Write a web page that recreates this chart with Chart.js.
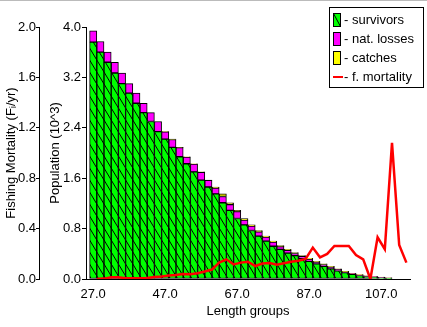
<!DOCTYPE html>
<html>
<head>
<meta charset="utf-8">
<style>
  html, body { margin: 0; padding: 0; background: #fff; }
  canvas { display: block; }
</style>
<script src="https://cdn.jsdelivr.net/npm/chart.js@4.4.0/dist/chart.umd.min.js"></script>
</head>
<body>
<canvas id="popChart" width="427" height="327"></canvas>
<script>
// length groups (bar centres)
const lengths = [27, 29, 31, 33, 35, 37, 39, 41, 43, 45, 47, 49, 51, 53, 55, 57, 59, 61, 63, 65, 67,
                 69, 71, 73, 75, 77, 79, 81, 83, 85, 87, 89, 91, 93, 95, 97, 99, 101, 103, 105, 107, 109];
// population, 10^3
const survivors = [3.76, 3.60, 3.44, 3.27, 3.10, 2.95, 2.79, 2.64, 2.50, 2.34, 2.22, 2.09, 1.94, 1.83,
                   1.70, 1.57, 1.46, 1.35, 1.21, 1.09, 0.96, 0.86, 0.77, 0.68, 0.60, 0.52, 0.47, 0.41,
                   0.37, 0.33, 0.28, 0.24, 0.20, 0.16, 0.13, 0.10, 0.075, 0.055, 0.04, 0.03, 0.02, 0.012];
const natLosses = [0.18, 0.17, 0.16, 0.17, 0.17, 0.15, 0.16, 0.15, 0.14, 0.16, 0.115, 0.125, 0.145, 0.105,
                   0.125, 0.125, 0.105, 0.095, 0.10, 0.09, 0.11, 0.075, 0.07, 0.07, 0.065, 0.065, 0.045,
                   0.045, 0.035, 0.028, 0.035, 0.028, 0.03, 0.03, 0.022, 0.015, 0.011, 0.012, 0.009,
                   0.008, 0.008, 0.006];
const catches = [0, 0, 0, 0, 0, 0, 0, 0, 0, 0, 0.005, 0.005, 0.005, 0.005, 0.005, 0.005, 0.005, 0.015,
                 0.04, 0.03, 0.02, 0.025, 0.02, 0.02, 0.015, 0.015, 0.015, 0.015, 0.015, 0.012, 0.015,
                 0.012, 0.01, 0.01, 0.008, 0.005, 0.004, 0.003, 0.001, 0.002, 0.002, 0.002];

// fishing mortality, F/yr
const fLengths = [28, 30, 32, 34, 36, 38, 40, 42, 44, 46, 48, 50, 52, 54, 56, 58, 60, 62, 64, 66, 68, 70,
                  72, 74, 76, 78, 80, 82, 84, 86, 88, 90, 92, 94, 96, 98, 100, 102, 104, 106, 108, 110, 112, 114];
const fMortality = [0, 0.003, 0.014, 0.014, 0.006, 0.006, 0.006, 0.008, 0.016, 0.02, 0.028, 0.032, 0.04,
                    0.038, 0.045, 0.06, 0.075, 0.13, 0.156, 0.115, 0.13, 0.137, 0.103, 0.123, 0.127, 0.114,
                    0.125, 0.137, 0.145, 0.16, 0.249, 0.172, 0.199, 0.262, 0.262, 0.262, 0.19, 0.156, 0,
                    0.331, 0.236, 1.08, 0.27, 0.13];

const xTicks = [27, 47, 67, 87, 107];
const popTicks = [0, 0.8, 1.6, 2.4, 3.2, 4.0];
const fTicks = [0, 0.4, 0.8, 1.2, 1.6, 2.0];

Chart.defaults.font.family = '"Liberation Sans", Arial, sans-serif';
Chart.defaults.font.size = 13;
Chart.defaults.color = '#000';

function hatchPattern() {
    const c = document.createElement('canvas');
    c.width = 36;
    c.height = 12;
    const g = c.getContext('2d');
    g.fillStyle = '#00ff00';
    g.fillRect(0, 0, 36, 12);
    g.strokeStyle = '#000';
    g.lineWidth = 1;
    for (let k = -2; k < 6; k++) {
        const x0 = 3.2 + 7.2 * k;
        g.beginPath();
        g.moveTo(x0, 0);
        g.lineTo(x0 + 7.2, 12);
        g.stroke();
    }
    return g.createPattern(c, 'repeat');
}

const pageBg = {
    id: 'pageBg',
    beforeDraw(chart) {
        const ctx = chart.ctx;
        ctx.save();
        ctx.fillStyle = '#fff';
        ctx.fillRect(0, 0, chart.width, chart.height);
        ctx.strokeStyle = '#bbb';
        ctx.beginPath();
        ctx.moveTo(0, 0.5);
        ctx.lineTo(chart.width, 0.5);
        ctx.stroke();
        ctx.restore();
    }
};

// legend in a framed box, top right
const boxLegend = {
    id: 'boxLegend',
    afterDraw(chart) {
        const ctx = chart.ctx;
        ctx.save();
        ctx.lineWidth = 1;
        ctx.strokeStyle = '#000';
        ctx.fillStyle = '#fff';
        ctx.fillRect(329.5, 7.5, 94, 80);
        ctx.strokeRect(329.5, 7.5, 94, 80);
        ctx.font = '13px "Liberation Sans", Arial, sans-serif';
        ctx.textBaseline = 'middle';
        chart.data.datasets.forEach((ds, i) => {
            const y = 20 + i * 19;
            if (ds.type === 'line') {
                ctx.strokeStyle = ds.borderColor;
                ctx.lineWidth = 2;
                ctx.beginPath();
                ctx.moveTo(333, y);
                ctx.lineTo(343, y);
                ctx.stroke();
            } else {
                ctx.fillStyle = ds.legendColor;
                ctx.fillRect(333.5, y - 6.5, 7, 13);
                ctx.strokeStyle = '#000';
                ctx.lineWidth = 1;
                if (ds.hatch) {
                    ctx.beginPath();
                    ctx.moveTo(333.5, y - 6.5);
                    ctx.lineTo(340.5, y + 6.5);
                    ctx.stroke();
                }
                ctx.strokeRect(333.5, y - 6.5, 7, 13);
            }
            ctx.fillStyle = '#000';
            ctx.fillText('- ' + ds.label, 344, y);
        });
        ctx.restore();
    }
};

new Chart(document.getElementById('popChart'), {
    type: 'bar',
    data: {
        datasets: [{
            label: 'survivors',
            data: lengths.map((x, i) => ({ x: x, y: survivors[i] })),
            backgroundColor: hatchPattern(),
            legendColor: '#00ff00',
            hatch: true,
            borderColor: '#000',
            borderWidth: 1,
            yAxisID: 'yPop',
            order: 1
        }, {
            label: 'nat. losses',
            data: lengths.map((x, i) => ({ x: x, y: natLosses[i] })),
            backgroundColor: '#ff00ff',
            legendColor: '#ff00ff',
            borderColor: '#000',
            borderWidth: 1,
            yAxisID: 'yPop',
            order: 1
        }, {
            label: 'catches',
            data: lengths.map((x, i) => ({ x: x, y: catches[i] })),
            backgroundColor: '#ffff00',
            legendColor: '#ffff00',
            borderColor: '#000',
            borderWidth: 1,
            yAxisID: 'yPop',
            order: 1
        }, {
            type: 'line',
            label: 'f. mortality',
            data: fLengths.map((x, i) => ({ x: x, y: fMortality[i] })),
            borderColor: '#ff0000',
            borderWidth: 2.5,
            pointRadius: 0,
            tension: 0,
            yAxisID: 'yF',
            order: 0
        }]
    },
    options: {
        responsive: false,
        animation: false,
        layout: { padding: { top: 27, right: 17, left: 0, bottom: 0 } },
        plugins: {
            legend: { display: false },
            tooltip: { enabled: false }
        },
        datasets: {
            bar: { barPercentage: 1, categoryPercentage: 1, borderSkipped: false }
        },
        scales: {
            x: {
                type: 'linear',
                min: 25,
                max: 115,
                offset: false,
                stacked: true,
                grid: { display: false, offset: false },
                border: { display: true, color: '#000', width: 1 },
                ticks: { padding: 0, autoSkip: false, maxRotation: 0, callback: v => v.toFixed(1) },
                afterBuildTicks: s => { s.ticks = xTicks.map(v => ({ value: v })); },
                afterFit: s => { s.height = 48; },
                title: { display: true, text: 'Length groups', padding: { top: 0, bottom: 8 } }
            },
            yPop: {
                type: 'linear',
                position: 'left',
                weight: 0,
                stacked: true,
                min: 0,
                max: 4,
                grid: { drawOnChartArea: false, drawTicks: true, tickLength: 4, color: '#000' },
                border: { display: true, color: '#000' },
                ticks: { padding: 1, callback: v => v.toFixed(1) },
                afterBuildTicks: s => { s.ticks = popTicks.map(v => ({ value: v })); },
                afterFit: s => { s.width = 47; },
                title: { display: true, text: 'Population (10^3)', padding: { top: 9, bottom: 0 } }
            },
            yF: {
                type: 'linear',
                position: 'left',
                weight: 1,
                min: 0,
                max: 2,
                grid: { drawOnChartArea: false, drawTicks: true, tickLength: 3, color: '#000' },
                border: { display: true, color: '#000' },
                ticks: { padding: 0, callback: v => v.toFixed(1) },
                afterBuildTicks: s => { s.ticks = fTicks.map(v => ({ value: v })); },
                afterFit: s => { s.width = 39; },
                title: { display: true, text: 'Fishing Mortality (Fᵢ/yr)', padding: { top: 4, bottom: 0 } }
            }
        }
    },
    plugins: [pageBg, boxLegend]
});
</script>
</body>
</html>
